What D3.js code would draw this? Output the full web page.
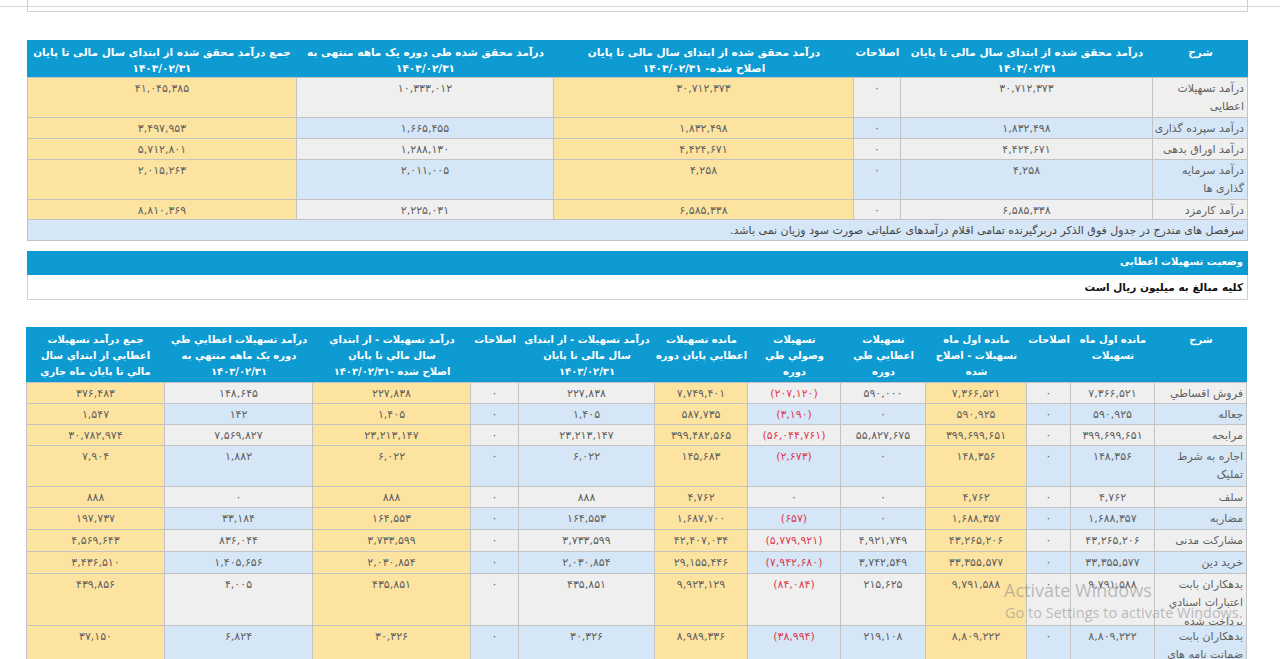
<!DOCTYPE html>
<html><head><meta charset="utf-8">
<script src="https://cdn.jsdelivr.net/npm/d3@7"></script>
<style>
html,body{margin:0;padding:0;background:#fff;width:1280px;height:659px;overflow:hidden;}
#root{position:relative;width:1280px;height:659px;font-family:"DejaVu Sans",sans-serif;}
.cell{position:absolute;box-sizing:border-box;overflow:hidden;}
.ln{white-space:nowrap;}
</style></head><body><div id="root"></div>
<script>
// ---------------- DATA ----------------
// Table 1: operating income (millions of rials)
const t1Headers = [
  ["شرح"],
  ["درآمد محقق شده از ابتدای سال مالی تا پایان", "۱۴۰۳/۰۲/۳۱"],
  ["اصلاحات"],
  ["درآمد محقق شده از ابتدای سال مالی تا پایان", "اصلاح شده- ۱۴۰۳/۰۲/۳۱"],
  ["درآمد محقق شده طی دوره یک ماهه منتهی به", "۱۴۰۳/۰۲/۳۱"],
  ["جمع درآمد محقق شده از ابتدای سال مالی تا پایان", "۱۴۰۳/۰۲/۳۱"]
];
const t1Labels = [
  ["درآمد تسهیلات", "اعطایی"],
  ["درآمد سپرده گذاری"],
  ["درآمد اوراق بدهی"],
  ["درآمد سرمایه", "گذاری ها"],
  ["درآمد کارمزد"]
];
const t1YtdIncome      = [30712373, 1832498, 4424671, 4258, 6585338];
const t1Adjustments    = [0, 0, 0, 0, 0];
const t1YtdAdjusted    = [30712373, 1832498, 4424671, 4258, 6585338];
const t1MonthIncome    = [10333012, 1665455, 1288130, 2011005, 2225031];
const t1TotalIncome    = [41045385, 3497953, 5712801, 2015263, 8810369];
const t1Note = "سرفصل های مندرج در جدول فوق الذکر دربرگیرنده تمامی اقلام درآمدهای عملیاتی صورت سود وزیان نمی باشد.";

const sectionTitle = "وضعیت تسهیلات اعطایی";
const sectionUnit = "کلیه مبالغ به میلیون ریال است";

// Table 2: status of granted facilities
const t2Headers = [
  ["شرح"],
  ["مانده اول ماه", "تسهیلات"],
  ["اصلاحات"],
  ["مانده اول ماه", "تسهیلات - اصلاح", "شده"],
  ["تسهیلات", "اعطايي طي", "دوره"],
  ["تسهیلات", "وصولي طي", "دوره"],
  ["مانده تسهیلات", "اعطايي پايان دوره"],
  ["درآمد تسهیلات - از ابتدای", "سال مالی تا پایان", "۱۴۰۳/۰۲/۳۱"],
  ["اصلاحات"],
  ["درآمد تسهیلات - از ابتداي", "سال مالي تا پايان", "اصلاح شده -۱۴۰۳/۰۲/۳۱"],
  ["درآمد تسهیلات اعطايي طي", "دوره یک ماهه منتهي به", "۱۴۰۳/۰۲/۳۱"],
  ["جمع درآمد تسهیلات", "اعطايي از ابتداي سال", "مالي تا پايان ماه جاري"]
];
const t2Labels = [
  ["فروش اقساطي"],
  ["جعاله"],
  ["مرابحه"],
  ["اجاره به شرط", "تملیک"],
  ["سلف"],
  ["مضاربه"],
  ["مشارکت مدنی"],
  ["خرید دین"],
  ["بدهکاران بابت", "اعتبارات اسنادي", "پرداخت شده"],
  ["بدهکاران بابت", "ضمانت نامه های", "پرداخت شده"]
];
const t2OpeningBalance  = [7366521, 590925, 399699651, 148356, 4762, 1688357, 43265206, 33355577, 9791588, 8809222];
const t2OpeningAdjust   = [0, 0, 0, 0, 0, 0, 0, 0, 0, 0];
const t2OpeningAdjusted = [7366521, 590925, 399699651, 148356, 4762, 1688357, 43265206, 33355577, 9791588, 8809222];
const t2Granted         = [590000, 0, 55827675, 0, 0, 0, 4921749, 3742549, 215625, 219108];
const t2Collected       = [-207120, -3190, -56044761, -2673, 0, -657, -5779921, -7942680, -84084, -38994];
const t2ClosingBalance  = [7749401, 587735, 399482565, 145683, 4762, 1687700, 42407034, 29155446, 9923129, 8989336];
const t2YtdIncome       = [227838, 1405, 23213147, 6022, 888, 164553, 3733599, 2030854, 435851, 30326];
const t2IncomeAdjust    = [0, 0, 0, 0, 0, 0, 0, 0, 0, 0];
const t2YtdAdjusted     = [227838, 1405, 23213147, 6022, 888, 164553, 3733599, 2030854, 435851, 30326];
const t2MonthIncome     = [148645, 142, 7569827, 1882, 0, 33184, 836044, 1405656, 4005, 6824];
const t2TotalIncome     = [376483, 1547, 30782974, 7904, 888, 197737, 4569643, 3436510, 439856, 37150];

const watermark = ["Activate Windows", "Go to Settings to activate Windows."];

// ---------------- STYLE / LAYOUT ----------------
const C = {
  head: "#0d9bd2", yellow: "#fde3a0", gray: "#efefef", blue: "#d5e6f6",
  border: "#c3c3c3", text: "#5f5f5f", red: "#e03a52"
};
const FS = 11;

const faDigits = "۰۱۲۳۴۵۶۷۸۹";
const fmt = d3.format(",");
function fa(n) {
  const s = fmt(Math.abs(n)).replace(/\d/g, d => faDigits[+d]);
  return n < 0 ? "(" + s + ")" : s;
}

const root = d3.select("#root");

// Generic table builder: columns given right-to-left (logical order)
function buildTable(opt) {
  const edges = opt.edges; // left->right pixel edges
  const nCols = edges.length - 1;
  const colX = d3.scaleOrdinal().domain(d3.range(nCols)).range(d3.range(nCols).map(i => edges[nCols - 1 - i]));
  const colW = d3.scaleOrdinal().domain(d3.range(nCols)).range(d3.range(nCols).map(i => edges[nCols - i] - edges[nCols - 1 - i]));
  const rowTops = [opt.top + opt.headH];
  opt.rowH.forEach(h => rowTops.push(rowTops[rowTops.length - 1] + h));
  const rowY = d3.scaleOrdinal().domain(d3.range(opt.rowH.length)).range(rowTops.slice(0, -1));

  // header
  const head = root.selectAll(null).data(opt.headers).enter().append("div").attr("class", "cell")
    .style("left", (d, i) => colX(i) + "px").style("top", opt.top + "px")
    .style("width", (d, i) => colW(i) + 1 + "px").style("height", opt.headH + "px")
    .style("background", C.head)
    .style("border-left", (d, i) => i === nCols - 1 ? "none" : "1px solid #d9eef7")
    .style("color", "#fff").style("font-weight", "bold").style("font-size", opt.headFS + "px")
    .style("direction", "rtl").style("text-align", "center")
    .style("padding-top", opt.headPad + "px")
    .style("line-height", opt.headLH + "px");
  head.selectAll(".ln").data(d => d).enter().append("div").attr("class", "ln").text(d => d);

  // body
  opt.rows.forEach((r, ri) => {
    const cells = [{ label: r.label }].concat(r.vals.map(v => ({ v })));
    root.selectAll(null).data(cells).enter().append("div").attr("class", "cell")
      .style("left", (d, i) => colX(i) + "px").style("top", rowY(ri) + "px")
      .style("width", (d, i) => colW(i) + 1 + "px").style("height", opt.rowH[ri] + 1 + "px")
      .style("background", (d, i) => opt.yellowCols.includes(i) ? C.yellow : (ri % 2 === 0 ? C.gray : C.blue))
      .style("border", "1px solid " + C.border)
      .style("font-size", FS + "px")
      .style("line-height", opt.bodyLH + "px")
      .style("padding-top", opt.bodyPad + "px")
      .style("direction", (d, i) => i === 0 ? "rtl" : "ltr")
      .style("text-align", (d, i) => i === 0 ? "right" : "center")
      .style("padding-right", (d, i) => i === 0 ? "3px" : "0")
      .style("color", d => (d.v !== undefined && d.v < 0) ? C.red : C.text)
      .each(function (d) {
        const s = d3.select(this);
        if (d.label) s.selectAll(".ln").data(d.label).enter().append("div").attr("class", "ln").text(t => t);
        else s.text(fa(d.v));
      });
  });
  return { bottom: rowTops[rowTops.length - 1] };
}

// top frame remnant
root.append("div").attr("class", "cell").style("left", "0px").style("top", "6px").style("width", "1280px").style("height", "1px").style("background", "#d8d8d8");
root.append("div").attr("class", "cell").style("left", "27px").style("top", "-2px").style("width", "1221px").style("height", "14px").style("border", "1px solid #cfcfcf");

// Table 1
const t1Rows = t1Labels.map((l, i) => ({
  label: l,
  vals: [t1YtdIncome[i], t1Adjustments[i], t1YtdAdjusted[i], t1MonthIncome[i], t1TotalIncome[i]]
}));
const t1 = buildTable({
  edges: [27, 296, 553, 853, 900, 1152, 1247],
  top: 40, headH: 37, headFS: 10.5, headLH: 16, headPad: 4,
  rowH: [40, 21, 21, 40, 20], bodyLH: 18, bodyPad: 2,
  headers: t1Headers, rows: t1Rows, yellowCols: [3, 5]
});
// note row
root.append("div").attr("class", "cell")
  .style("left", "27px").style("top", t1.bottom + "px").style("width", "1221px").style("height", "22px")
  .style("background", C.blue).style("border", "1px solid " + C.border)
  .style("direction", "rtl").style("text-align", "right").style("padding", "2px 3px 0 0")
  .style("font-size", FS + "px").style("line-height", "18px").style("color", "#444")
  .append("div").attr("class", "ln").text(t1Note);

// section box
root.append("div").attr("class", "cell")
  .style("left", "27px").style("top", "251px").style("width", "1221px").style("height", "49px")
  .style("border", "1px solid #cfcfcf");
root.append("div").attr("class", "cell")
  .style("left", "27px").style("top", "251px").style("width", "1221px").style("height", "24px")
  .style("background", C.head).style("color", "#fff").style("font-weight", "bold").style("font-size", "10px")
  .style("direction", "rtl").style("text-align", "right").style("padding", "5px 5px 0 0")
  .text(sectionTitle);
root.append("div").attr("class", "cell")
  .style("left", "27px").style("top", "276px").style("width", "1221px").style("height", "23px")
  .style("color", "#111").style("font-weight", "bold").style("font-size", "10.5px")
  .style("direction", "rtl").style("text-align", "right").style("padding", "5px 5px 0 0")
  .text(sectionUnit);

// Table 2
const t2Rows = t2Labels.map((l, i) => ({
  label: l,
  vals: [t2OpeningBalance[i], t2OpeningAdjust[i], t2OpeningAdjusted[i], t2Granted[i], t2Collected[i],
         t2ClosingBalance[i], t2YtdIncome[i], t2IncomeAdjust[i], t2YtdAdjusted[i], t2MonthIncome[i], t2TotalIncome[i]]
}));
buildTable({
  edges: [26, 164, 312, 470, 518, 654, 747, 840, 925, 1026, 1070, 1154, 1246],
  top: 327, headH: 55, headFS: 10, headLH: 16, headPad: 5,
  rowH: [21, 21, 21, 41, 21, 22, 22, 22, 52, 52], bodyLH: 18.5, bodyPad: 1.5,
  headers: t2Headers, rows: t2Rows, yellowCols: [3, 6, 9, 11]
});

// OS watermark overlay
root.append("div").attr("class", "cell")
  .style("left", "1004px").style("top", "578px").style("font-family", "'Open Sans',sans-serif")
  .style("font-size", "18px").style("color", "rgba(130,130,130,0.5)").style("white-space", "nowrap")
  .text(watermark[0]);
root.append("div").attr("class", "cell")
  .style("left", "1005px").style("top", "603px").style("font-family", "'Open Sans',sans-serif")
  .style("font-size", "14.5px").style("color", "rgba(130,130,130,0.5)").style("white-space", "nowrap")
  .text(watermark[1]);
</script>
</body></html>
